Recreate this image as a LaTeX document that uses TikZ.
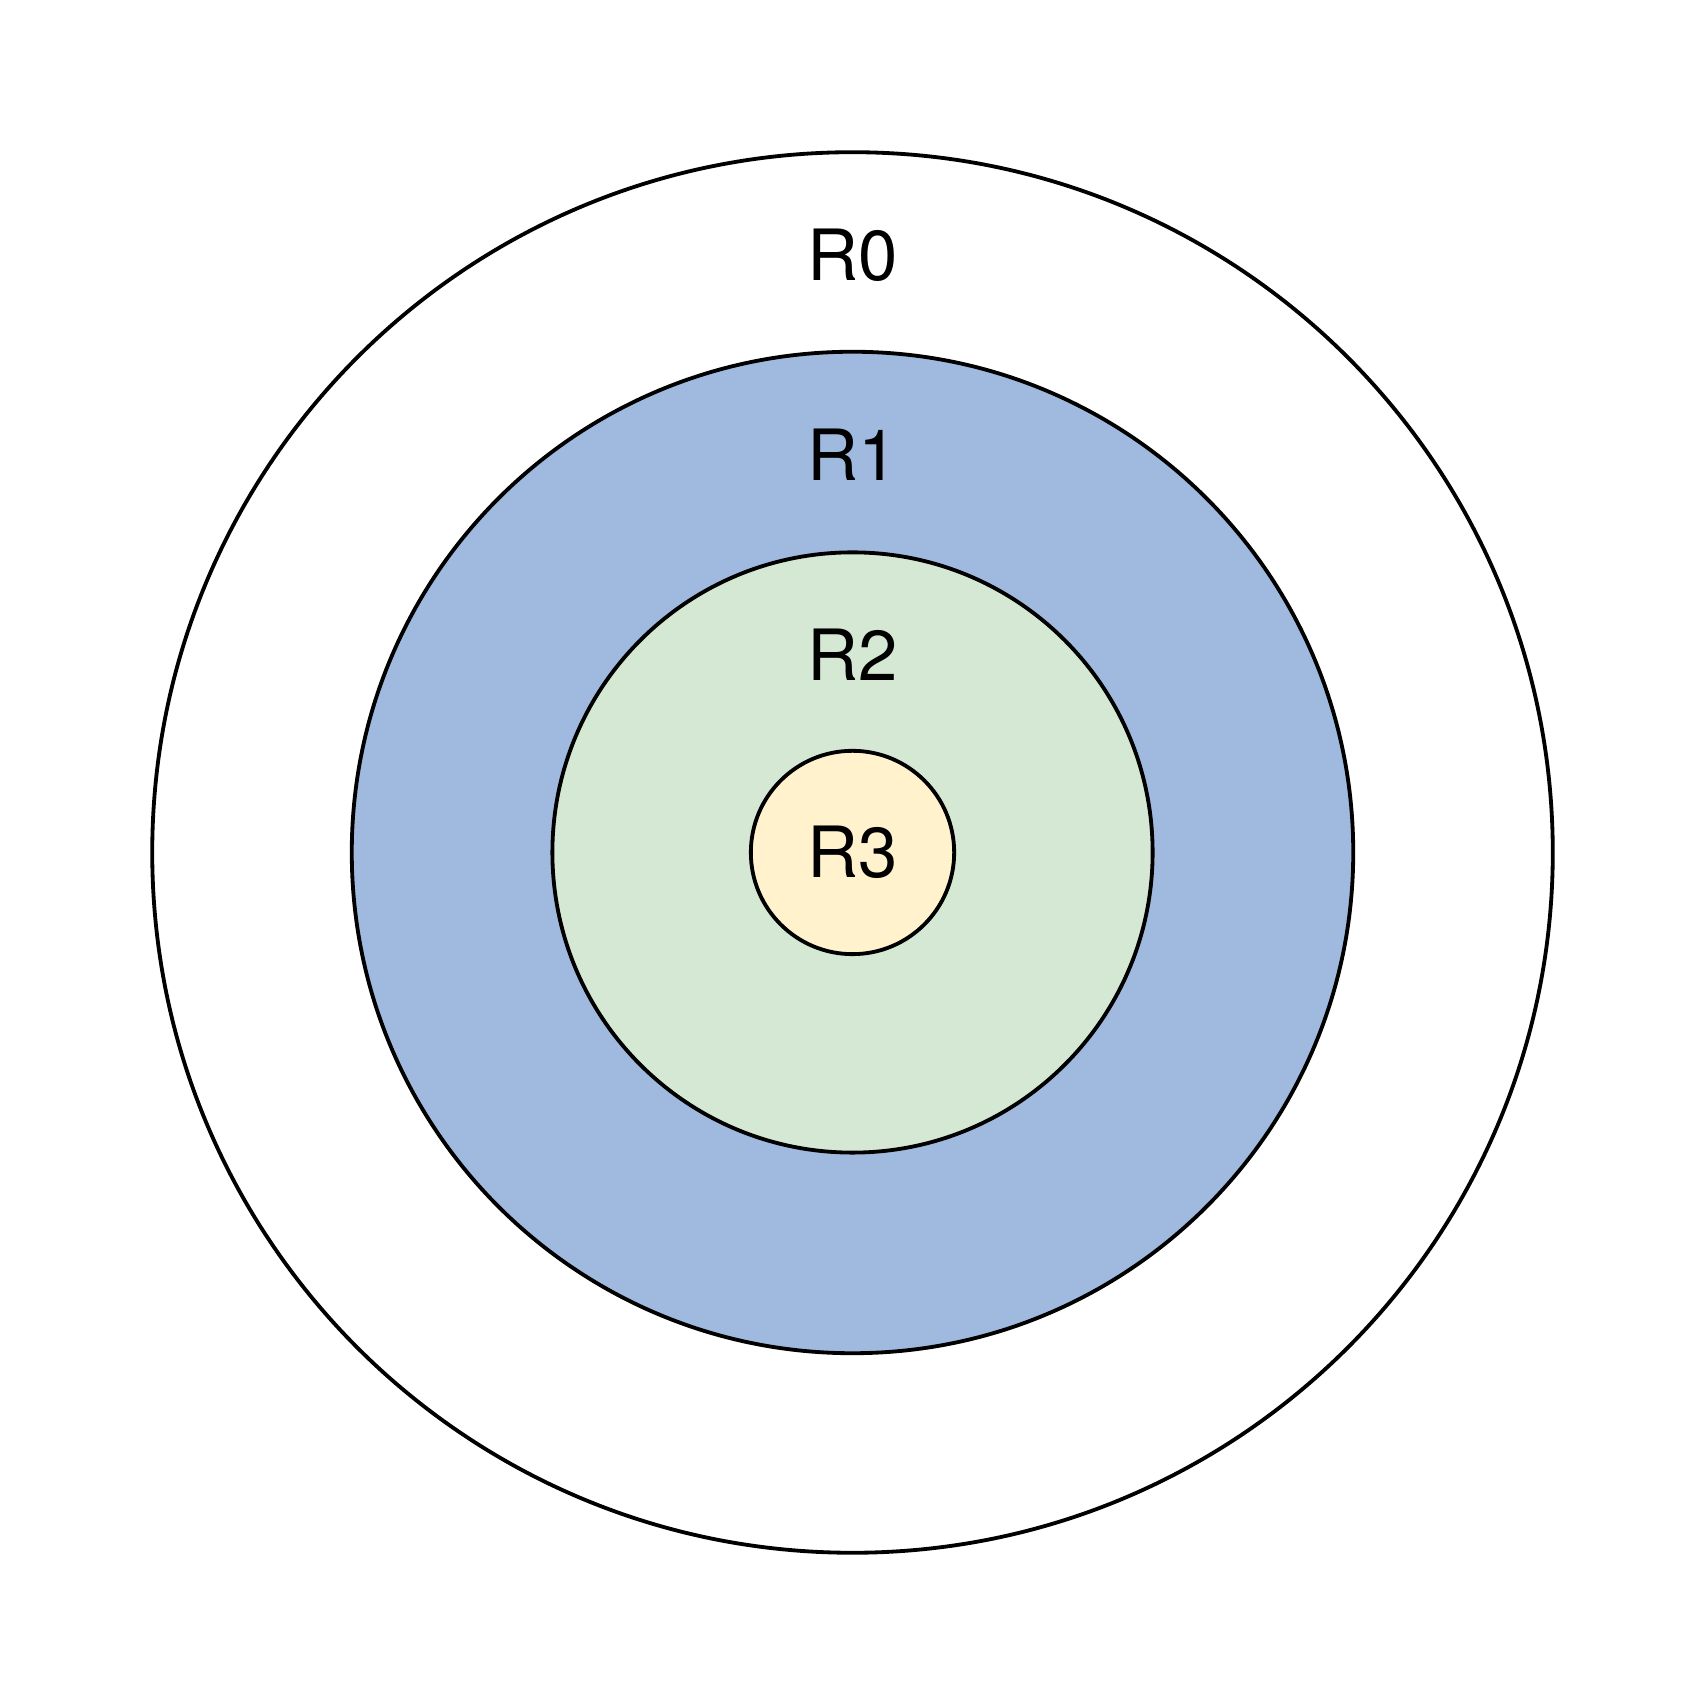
\documentclass[tikz,border=0pt]{standalone}
\usepackage{fontspec}
\setmainfont{TeX Gyre Heros}
\usetikzlibrary{positioning}
\definecolor{ringblue}{RGB}{160,186,223}
\definecolor{ringgreen}{RGB}{213,232,212}
\definecolor{ringyellow}{RGB}{255,242,204}
\tikzset{
  ring/.style={circle,draw=black,line width=1pt,fill=#1,inner sep=0pt},
  ring/.default=white,
  tag/.style={font=\fontsize{18.5}{22}\selectfont,text=black,inner sep=0pt}
}
\begin{document}
\begin{tikzpicture}
  \useasboundingbox (0,0) rectangle (15.68,15.68);
  \coordinate (c) at (7.84,7.84);
  % rings, outer to inner
  \node[ring,minimum size=12.88cm] (r0) at (c) {};
  \node[ring=ringblue,minimum size=9.21cm] (r1) at (c) {};
  \node[ring=ringgreen,minimum size=5.52cm] (r2) at (c) {};
  \node[ring=ringyellow,minimum size=1.87cm] (r3) at (c) {};
  % labels
  \node[tag] (l0) at (7.84,13.33) {R0};
  \node[tag] (l1) at (7.84,11.50) {R1};
  \node[tag] (l2) at (7.84,9.66) {R2};
  \node[tag] (l3) at (c) {R3};
\end{tikzpicture}
\end{document}
